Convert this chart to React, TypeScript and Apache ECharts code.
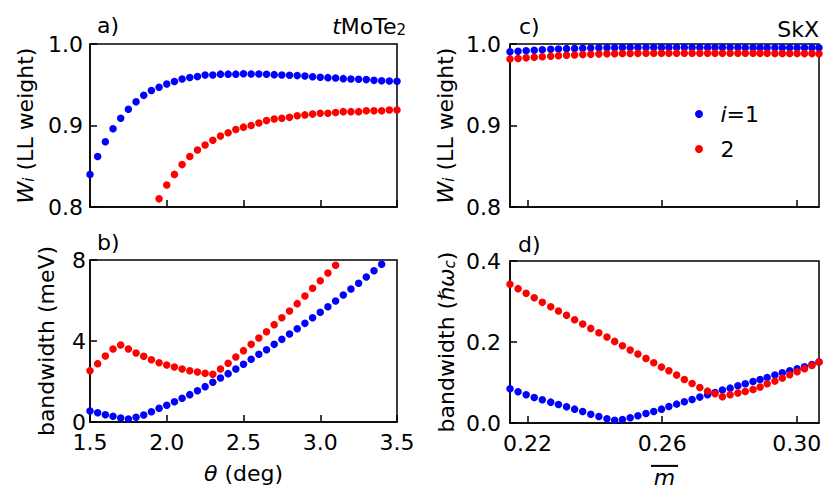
import React, { useEffect, useRef } from "react";
import * as echarts from "echarts";

const FONT = "'DejaVu Sans', 'Liberation Sans', sans-serif";
const FS = 22;
const SUB = 15;
const BLUE = "#0000ff";
const RED = "#ff0000";

// twist angle theta (deg)
const theta = [
  1.5, 1.55, 1.6, 1.65, 1.7, 1.75, 1.8, 1.85, 1.9, 1.95, 2.0, 2.05, 2.1, 2.15, 2.2, 2.25, 2.3, 2.35, 2.4, 2.45,
  2.5, 2.55, 2.6, 2.65, 2.7, 2.75, 2.8, 2.85, 2.9, 2.95, 3.0, 3.05, 3.1, 3.15, 3.2, 3.25, 3.3, 3.35, 3.4, 3.45, 3.5,
];
// panel a: LL weight vs theta
const wTheta1 = [
  0.84, 0.862, 0.88, 0.896, 0.909, 0.92, 0.929, 0.937, 0.943, 0.947, 0.951, 0.954, 0.957, 0.959, 0.96, 0.962, 0.962,
  0.963, 0.963, 0.963, 0.9636, 0.9632, 0.9632, 0.9628, 0.9624, 0.962, 0.9616, 0.9612, 0.9607, 0.9599, 0.9591, 0.9587,
  0.9583, 0.9575, 0.9571, 0.9567, 0.9563, 0.9554, 0.955, 0.9546, 0.9542,
];
const wTheta2 = [
  null, null, null, null, null, null, null, null, null, 0.81, 0.827, 0.84, 0.852, 0.862, 0.87, 0.876, 0.882, 0.887,
  0.891, 0.895, 0.898, 0.9, 0.903, 0.906, 0.908, 0.909, 0.91, 0.912, 0.913, 0.914, 0.915, 0.915, 0.916, 0.917, 0.917,
  0.917, 0.918, 0.918, 0.918, 0.919, 0.919,
];
// panel b: bandwidth (meV) vs theta
const bwTheta1 = [
  0.543, 0.461, 0.362, 0.28, 0.198, 0.148, 0.23, 0.346, 0.51, 0.675, 0.823, 1.004, 1.169, 1.35, 1.547, 1.745, 1.959,
  2.173, 2.387, 2.617, 2.848, 3.095, 3.342, 3.572, 3.835, 4.082, 4.346, 4.609, 4.872, 5.152, 5.416, 5.695, 5.975,
  6.272, 6.568, 6.848, 7.16, 7.473, 7.786,
];
const bwTheta2 = [
  2.535, 2.881, 3.259, 3.605, 3.802, 3.605, 3.407, 3.243, 3.078, 2.93, 2.815, 2.716, 2.617, 2.535, 2.469, 2.403, 2.354,
  2.617, 2.897, 3.21, 3.523, 3.835, 4.148, 4.461, 4.807, 5.152, 5.481, 5.844, 6.222, 6.601, 6.979, 7.358, 7.737,
];
// SkX: m-bar
const mBar = [
  0.2148, 0.2172, 0.2196, 0.222, 0.2244, 0.2269, 0.2292, 0.2316, 0.234, 0.2364, 0.2388, 0.2412, 0.2436, 0.2459, 0.2482,
  0.2505, 0.2528, 0.2552, 0.2575, 0.2598, 0.262, 0.2643, 0.2666, 0.2689, 0.2712, 0.2735, 0.2757, 0.2779, 0.2802,
  0.2825, 0.2847, 0.287, 0.2891, 0.2912, 0.2935, 0.2957, 0.2979, 0.3001, 0.3023, 0.3045, 0.3066,
];
const wM1 = [
  0.9905, 0.9912, 0.9918, 0.9924, 0.993, 0.9935, 0.9939, 0.9943, 0.9946, 0.9949, 0.9951, 0.9953, 0.9954, 0.9955,
  0.9956, 0.9956, 0.9957, 0.9957, 0.9957, 0.9957, 0.9957, 0.9957, 0.9957, 0.9957, 0.9957, 0.9956, 0.9956, 0.9956,
  0.9956, 0.9956, 0.9955, 0.9955, 0.9955, 0.9955, 0.9955, 0.9954, 0.9954, 0.9954, 0.9954, 0.9953, 0.9953,
];
const wM2 = [
  0.9815, 0.9822, 0.983, 0.9837, 0.9844, 0.985, 0.9856, 0.9861, 0.9866, 0.987, 0.9873, 0.9876, 0.9879, 0.9881,
  0.9883, 0.9884, 0.9885, 0.9886, 0.9887, 0.9887, 0.9888, 0.9888, 0.9888, 0.9888, 0.9888, 0.9888, 0.9888, 0.9887,
  0.9887, 0.9887, 0.9886, 0.9886, 0.9885, 0.9885, 0.9884, 0.9884, 0.9883, 0.9883, 0.9882, 0.9882, 0.9881,
];
const bwM1 = [
  0.0845, 0.0771, 0.0696, 0.063, 0.0573, 0.0515, 0.0457, 0.04, 0.0342, 0.0284, 0.0218, 0.0161, 0.0103, 0.007, 0.0087,
  0.0128, 0.0177, 0.0235, 0.0284, 0.0342, 0.0408, 0.0466, 0.0523, 0.0581, 0.0639, 0.0696, 0.0754, 0.0812, 0.0861,
  0.0919, 0.0968, 0.1026, 0.1075, 0.1125, 0.1183, 0.124, 0.129, 0.1339, 0.1389, 0.1446, 0.1504,
];
const bwM2 = [
  0.3424, 0.3317, 0.3202, 0.3094, 0.2979, 0.2872, 0.2765, 0.2658, 0.2551, 0.2443, 0.2336, 0.2229, 0.2122, 0.2015,
  0.1908, 0.18, 0.1702, 0.1595, 0.1487, 0.138, 0.129, 0.1183, 0.1075, 0.0977, 0.0878, 0.0787, 0.0721, 0.0647, 0.0696,
  0.0738, 0.0779, 0.0828, 0.0886, 0.0968, 0.1034, 0.1108, 0.1191, 0.1265, 0.1339, 0.1422, 0.1504,
];

const thetaTicks = [1.5, 3.5, 0.5]; // min, max, interval
const mTicks = [0.22, 0.26, 0.3];
const legendNames = ["i=1", "2"];

function pairs(xs: number[], ys: (number | null)[]) {
  const out: number[][] = [];
  ys.forEach((y, i) => {
    if (y !== null && y !== undefined) out.push([xs[i], y]);
  });
  return out;
}

const axisLine = { show: true, lineStyle: { color: "#000", width: 1.5 } };
const axisTick = { show: true, inside: true, length: 7, lineStyle: { color: "#000", width: 1.5 } };
const labelBase = { fontSize: FS, color: "#000", fontFamily: FONT };
const nameBase = { fontSize: FS, color: "#000", fontFamily: FONT };

export default function App() {
  const ref = useRef<HTMLDivElement>(null);
  useEffect(() => {
    if (!ref.current) return;
    const chart = echarts.init(ref.current, null, { renderer: "svg" });
    const gridStyle = { show: true, borderColor: "#000", borderWidth: 1.5, containLabel: false };
    const thetaAxis = (gi: number, showLabel: boolean) => ({
      type: "value",
      gridIndex: gi,
      min: thetaTicks[0],
      max: thetaTicks[1],
      interval: thetaTicks[2],
      axisLine,
      axisTick,
      splitLine: { show: false },
      axisLabel: { ...labelBase, show: showLabel, margin: 9, formatter: (v: number) => v.toFixed(1) },
    });
    const mAxis = (gi: number, showLabel: boolean) => ({
      type: "value",
      gridIndex: gi,
      min: mBar[0],
      max: mBar[mBar.length - 1],
      axisLine,
      axisTick: { ...axisTick, customValues: mTicks },
      splitLine: { show: false },
      axisLabel: {
        ...labelBase,
        show: showLabel,
        margin: 9,
        customValues: mTicks,
        formatter: (v: number) => v.toFixed(2),
      },
    });
    const wName = "{it|W}{sub|i} (LL weight)";
    const richName = {
      it: { fontStyle: "italic", fontSize: FS, fontFamily: FONT, color: "#000" },
      sub: { fontStyle: "italic", fontSize: SUB, fontFamily: FONT, color: "#000", verticalAlign: "bottom", lineHeight: 10 },
    };
    const scatter = (name: string, color: string, xi: number, data: number[][]) => ({
      type: "scatter",
      name,
      xAxisIndex: xi,
      yAxisIndex: xi,
      data,
      symbol: "circle",
      symbolSize: 7.5,
      itemStyle: { color, opacity: 1 },
      emphasis: { disabled: true },
    });

    chart.setOption({
      animation: false,
      backgroundColor: "#fff",
      textStyle: { fontFamily: FONT },
      grid: [
        { left: 90, top: 44, width: 307, height: 163, ...gridStyle },
        { left: 90, top: 260, width: 307, height: 162, ...gridStyle },
        { left: 510, top: 44, width: 309, height: 163, ...gridStyle },
        { left: 510, top: 261, width: 309, height: 162, ...gridStyle },
      ],
      xAxis: [
        thetaAxis(0, false),
        {
          ...thetaAxis(1, true),
          name: "{it|θ} (deg)",
          nameLocation: "middle",
          nameGap: 40,
          nameTextStyle: { ...nameBase, rich: richName },
        },
        mAxis(2, false),
        {
          ...mAxis(3, true),
          name: "{ov|}\n{m|m}",
          nameLocation: "middle",
          nameGap: 40,
          nameTextStyle: {
            ...nameBase,
            rich: {
              ov: { width: 27, height: 2, backgroundColor: "#000", lineHeight: 4 },
              m: { fontStyle: "italic", fontSize: FS, fontFamily: FONT, color: "#000", lineHeight: 20 },
            },
          },
        },
      ],
      yAxis: [
        {
          type: "value",
          gridIndex: 0,
          min: 0.8,
          max: 1.0,
          interval: 0.1,
          axisLine,
          axisTick,
          splitLine: { show: false },
          axisLabel: { ...labelBase, margin: 7, formatter: (v: number) => v.toFixed(1) },
          name: wName,
          nameLocation: "middle",
          nameRotate: 90,
          nameGap: 54,
          nameTextStyle: { ...nameBase, rich: richName },
        },
        {
          type: "value",
          gridIndex: 1,
          min: 0,
          max: 8,
          interval: 4,
          axisLine,
          axisTick,
          splitLine: { show: false },
          axisLabel: { ...labelBase, margin: 4, formatter: (v: number) => String(v) },
          name: "bandwidth (meV)",
          nameLocation: "middle",
          nameRotate: 90,
          nameGap: 33,
          nameTextStyle: nameBase,
        },
        {
          type: "value",
          gridIndex: 2,
          min: 0.8,
          max: 1.0,
          interval: 0.1,
          axisLine,
          axisTick,
          splitLine: { show: false },
          axisLabel: { ...labelBase, margin: 9, formatter: (v: number) => v.toFixed(1) },
          name: wName,
          nameLocation: "middle",
          nameRotate: 90,
          nameGap: 54,
          nameTextStyle: { ...nameBase, rich: richName },
        },
        {
          type: "value",
          gridIndex: 3,
          min: 0,
          max: 0.4,
          interval: 0.2,
          axisLine,
          axisTick,
          splitLine: { show: false },
          axisLabel: { ...labelBase, margin: 9, formatter: (v: number) => v.toFixed(1) },
          name: "bandwidth ({it|ℏω}{sub|c})",
          nameLocation: "middle",
          nameRotate: 90,
          nameGap: 53,
          nameTextStyle: { ...nameBase, rich: richName },
        },
      ],
      legend: {
        data: legendNames,
        orient: "vertical",
        left: 690,
        top: 97,
        itemWidth: 25,
        itemHeight: 8,
        itemGap: 11,
        icon: "circle",
        selectedMode: false,
        formatter: (n: string) => (n === "i=1" ? "{i|i}=1" : n),
        textStyle: {
          fontSize: FS,
          fontFamily: FONT,
          color: "#000",
          lineHeight: 24,
          padding: [0, 0, 0, 4],
          rich: { i: { fontStyle: "italic", fontSize: FS, fontFamily: FONT, color: "#000" } },
        },
      },
      graphic: [
        { type: "text", x: 97, y: 25, style: { text: "a)", font: `${FS}px ${FONT}`, fill: "#000", textVerticalAlign: "middle" } },
        {
          type: "text",
          x: 406,
          y: 26,
          style: {
            text: "{it|t}MoTe{sub|2}",
            font: `${FS}px ${FONT}`,
            fill: "#000",
            textAlign: "right",
            textVerticalAlign: "middle",
            rich: {
              it: { fontStyle: "italic", fontSize: FS, fontFamily: FONT, fill: "#000" },
              sub: { fontSize: SUB, fontFamily: FONT, fill: "#000", verticalAlign: "bottom", lineHeight: 10 },
            },
          },
        },
        { type: "text", x: 97, y: 242, style: { text: "b)", font: `${FS}px ${FONT}`, fill: "#000", textVerticalAlign: "middle" } },
        { type: "text", x: 519, y: 26, style: { text: "c)", font: `${FS}px ${FONT}`, fill: "#000", textVerticalAlign: "middle" } },
        {
          type: "text",
          x: 819,
          y: 29,
          style: { text: "SkX", font: `${FS}px ${FONT}`, fill: "#000", textAlign: "right", textVerticalAlign: "middle" },
        },
        { type: "text", x: 518, y: 244, style: { text: "d)", font: `${FS}px ${FONT}`, fill: "#000", textVerticalAlign: "middle" } },
      ],
      series: [
        scatter(legendNames[0], BLUE, 0, pairs(theta, wTheta1)),
        scatter(legendNames[1], RED, 0, pairs(theta, wTheta2)),
        scatter(legendNames[0], BLUE, 1, pairs(theta, bwTheta1)),
        scatter(legendNames[1], RED, 1, pairs(theta, bwTheta2)),
        scatter(legendNames[0], BLUE, 2, pairs(mBar, wM1)),
        scatter(legendNames[1], RED, 2, pairs(mBar, wM2)),
        scatter(legendNames[0], BLUE, 3, pairs(mBar, bwM1)),
        scatter(legendNames[1], RED, 3, pairs(mBar, bwM2)),
      ],
    });
    return () => chart.dispose();
  }, []);
  return <div ref={ref} style={{ position: "fixed", left: 0, top: 0, width: 829, height: 500 }} />;
}
